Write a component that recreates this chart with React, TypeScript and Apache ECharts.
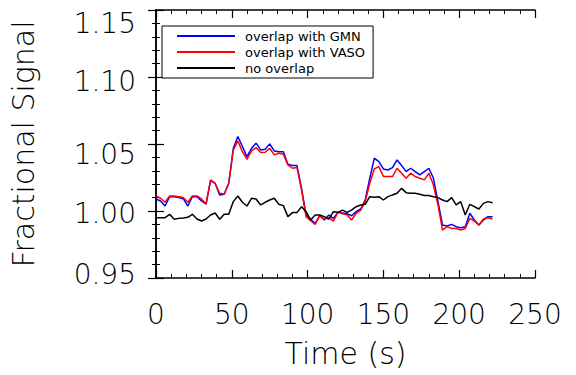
import React, { useEffect, useRef } from "react";
import * as echarts from "echarts";

const seriesNames = ["overlap with GMN", "overlap with VASO", "no overlap"];
const seriesColors = ["#0000ff", "#ff0000", "#000000"];

const timeS = [
  0, 3, 6, 9, 12, 15, 18, 21, 24, 27, 30, 33, 36, 39, 42, 45, 48, 51, 54, 57,
  60, 63, 66, 69, 72, 75, 78, 81, 84, 87, 90, 93, 96, 99, 102, 105, 108, 111, 114, 117,
  120, 123, 126, 129, 132, 135, 138, 141, 144, 147, 150, 153, 156, 159, 162, 165, 168, 171, 174, 177,
  180, 183, 186, 189, 192, 195, 198, 201, 204, 207, 210, 213, 216, 219, 222,
];

const gmn = [
  1.009, 1.0075, 1.0037, 1.0107, 1.0107, 1.01, 1.0092, 1.0037, 1.0107, 1.0107,
  1.0075, 1.0052, 1.0227, 1.0207, 1.012, 1.0125, 1.0207, 1.0468, 1.0556, 1.0481,
  1.0406, 1.0468, 1.0506, 1.0456, 1.0461, 1.0501, 1.0448, 1.0443, 1.0443, 1.0349,
  1.0339, 1.0339, 1.0169, 0.997, 0.9938, 0.9908, 0.9965, 0.9933, 0.997, 0.9945,
  0.999, 0.9985, 0.998, 0.9965, 0.9995, 1.0015, 1.0082, 1.0244, 1.0394, 1.0369,
  1.0314, 1.0306, 1.0324, 1.0381, 1.0339, 1.0294, 1.0319, 1.0294, 1.0269, 1.0294,
  1.0319, 1.0244, 1.007, 0.9895, 0.9888, 0.99, 0.9883, 0.9875, 0.9883, 0.9983,
  0.9933, 0.9895, 0.9933, 0.9958, 0.9958,
];

const vaso = [
  1.0112, 1.0095, 1.0065, 1.0112, 1.0112, 1.0107, 1.01, 1.0065, 1.0112, 1.0112,
  1.009, 1.0052, 1.0232, 1.0207, 1.0132, 1.0127, 1.0207, 1.0456, 1.0523, 1.0443,
  1.0386, 1.0448, 1.0473, 1.0436, 1.0438, 1.0468, 1.0419, 1.0431, 1.0424, 1.0344,
  1.0319, 1.0324, 1.0157, 0.9958, 0.9928, 0.99, 0.9965, 0.994, 0.995, 0.9925,
  0.999, 0.998, 0.9972, 0.9933, 0.9983, 1.0007, 1.007, 1.0207, 1.0314, 1.0331,
  1.0257, 1.0257, 1.0257, 1.0319, 1.0282, 1.0244, 1.0282, 1.0257, 1.0244, 1.0232,
  1.0282, 1.0194, 1.0045, 0.9858, 0.9883, 0.987, 0.987, 0.9858, 0.987, 0.9945,
  0.9925, 0.9895, 0.994, 0.995, 0.994,
];

const noOverlap = [
  0.995, 0.995, 0.995, 0.9975, 0.9938, 0.9945, 0.9948, 0.9953, 0.9975, 0.994,
  0.9925, 0.994, 0.997, 0.9985, 0.9938, 0.9975, 0.9975, 1.007, 1.0112, 1.0065,
  1.0037, 1.0095, 1.009, 1.0045, 1.0065, 1.0082, 1.0095, 1.005, 1.004, 0.9958,
  0.9988, 0.9988, 1.0032, 0.9995, 0.9933, 0.997, 0.997, 0.9958, 0.994, 0.9995,
  0.999, 1.0007, 0.999, 1.0007, 1.0032, 1.0045, 1.005, 1.0107, 1.0102, 1.0107,
  1.0082, 1.0107, 1.012, 1.0132, 1.0169, 1.0137, 1.0132, 1.0132, 1.0125, 1.0115,
  1.0115, 1.0107, 1.01, 1.0082, 1.007, 1.01, 1.0045, 1.007, 0.997, 1.005,
  1.0032, 1.0015, 1.0057, 1.007, 1.0062,
];

const xMin = 0;
const xMax = 250;
const xInterval = 50;
const yMin = 0.95;
const yMax = 1.15;
const yInterval = 0.05;
const yTickLabels = ["0.95", "1.00", "1.05", "1.10", "1.15"];

const FONT = "DejaVu Sans";
const LIGHT = 200;

export default function App() {
  const ref = useRef<HTMLDivElement>(null);

  useEffect(() => {
    if (!ref.current) return;
    const chart = echarts.init(ref.current, undefined, { renderer: "svg" });
    const allData = [gmn, vaso, noOverlap];

    const axisLine = { show: true, lineStyle: { color: "#000", width: 1.5 } };
    const majorTick = { show: true, inside: true, length: 8, lineStyle: { color: "#000", width: 1.2 } };
    const minorTick = { show: true, splitNumber: 5, length: 4, lineStyle: { color: "#000", width: 1 } };
    const labelStyle = { color: "#000", fontFamily: FONT, fontWeight: LIGHT as any, fontSize: 28 };
    // downward shift (px) of each y tick label, as in the reference rendering
    const yShift = [-4, 2, 10, 4, 13];
    const rich: Record<string, any> = {};
    yShift.forEach((s, i) => {
      rich["s" + i] = {
        color: "#000",
        fontFamily: FONT,
        fontWeight: LIGHT,
        fontSize: 28,
        padding: s >= 0 ? [2 * s, 0, 0, 0] : [0, 0, -2 * s, 0],
      };
    });

    chart.setOption({
      animation: false,
      backgroundColor: "#fff",
      grid: { left: 152, right: 41, top: 10, bottom: 97, containLabel: false },
      legend: {
        orient: "vertical",
        left: 162,
        top: 26,
        itemWidth: 58,
        itemHeight: 14,
        itemGap: 2,
        padding: [3, 8, 3, 14],
        borderColor: "#000",
        borderWidth: 1,
        backgroundColor: "#fff",
        itemStyle: { opacity: 0, borderWidth: 0 },
        textStyle: { color: "#000", fontFamily: FONT, fontSize: 13, lineHeight: 14, padding: [0, 0, 0, 5] },
        data: seriesNames,
      },
      xAxis: [
        {
          type: "value",
          min: xMin,
          max: xMax,
          interval: xInterval,
          position: "bottom",
          name: "Time (s)",
          nameLocation: "middle",
          nameGap: 60,
          nameTextStyle: { ...labelStyle, fontSize: 30 },
          axisLine,
          axisTick: majorTick,
          minorTick,
          splitLine: { show: false },
          axisLabel: { ...labelStyle, margin: 22 },
        },
        {
          type: "value",
          min: xMin,
          max: xMax,
          interval: xInterval,
          position: "top",
          axisLine,
          axisTick: majorTick,
          minorTick,
          splitLine: { show: false },
          axisLabel: { show: false },
        },
      ],
      yAxis: [
        {
          type: "value",
          min: yMin,
          max: yMax,
          interval: yInterval,
          position: "left",
          name: "Fractional Signal",
          nameLocation: "middle",
          nameGap: 118,
          nameTextStyle: { ...labelStyle, fontSize: 30 },
          axisLine,
          axisTick: majorTick,
          minorTick,
          splitLine: { show: false },
          axisLabel: {
            ...labelStyle,
            margin: 20,
            formatter: (v: number) => {
              const txt = v.toFixed(2);
              const idx = yTickLabels.indexOf(txt);
              return idx >= 0 ? `{s${idx}|${txt}}` : txt;
            },
            rich,
          },
        },
        {
          type: "value",
          min: yMin,
          max: yMax,
          interval: yInterval,
          position: "right",
          axisLine,
          axisTick: majorTick,
          minorTick,
          splitLine: { show: false },
          axisLabel: { show: false },
        },
      ],
      series: seriesNames.map((name, k) => ({
        name,
        type: "line",
        xAxisIndex: 0,
        yAxisIndex: 0,
        symbol: "none",
        showSymbol: false,
        color: seriesColors[k],
        lineStyle: { color: seriesColors[k], width: 1.5 },
        data: timeS.map((t, i) => [t, allData[k][i]]),
      })),
    });

    return () => chart.dispose();
  }, []);

  return (
    <div
      ref={ref}
      style={{ position: "fixed", left: 0, top: 0, width: 576, height: 375 }}
    />
  );
}
